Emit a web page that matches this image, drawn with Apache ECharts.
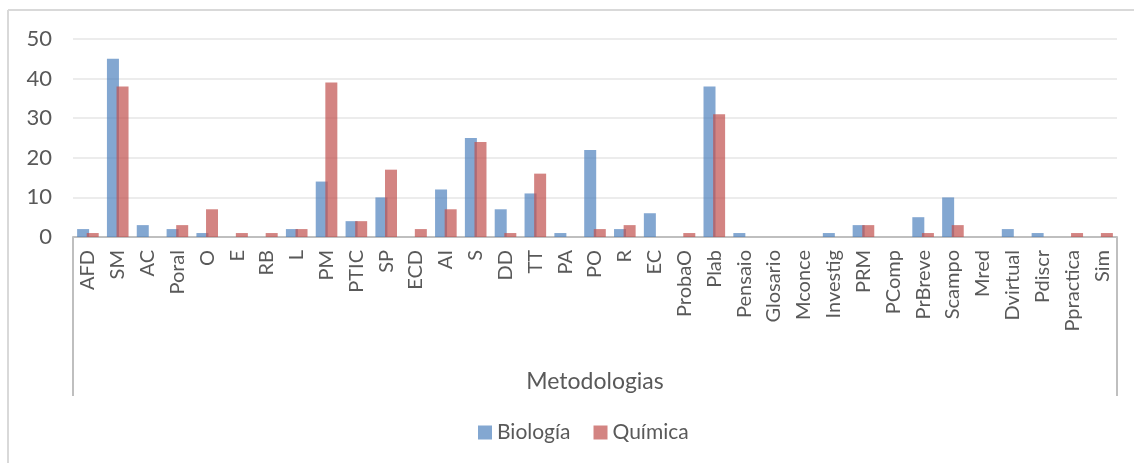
<!DOCTYPE html>
<html>
<head>
<meta charset="utf-8">
<script src="https://cdn.jsdelivr.net/npm/echarts@6/dist/echarts.min.js"></script>
<style>
  html, body { margin: 0; padding: 0; background: #ffffff; }
  #chart { width: 1134px; height: 463px; }
</style>
</head>
<body>
<div id="chart"></div>
<script>
// Teaching methodologies and how often each is used, by subject
const categories = ['AFD', 'SM', 'AC', 'Poral', 'O', 'E', 'RB', 'L', 'PM', 'PTIC', 'SP', 'ECD', 'AI', 'S', 'DD', 'TT', 'PA', 'PO', 'R', 'EC', 'ProbaO', 'Plab', 'Pensaio', 'Glosario', 'Mconce', 'Investig', 'PRM', 'PComp', 'PrBreve', 'Scampo', 'Mred', 'Dvirtual', 'Pdiscr', 'Ppractica', 'Sim'];
const biologia = [2, 45, 3, 2, 1, 0, 0, 2, 14, 4, 10, 0, 12, 25, 7, 11, 1, 22, 2, 6, 0, 38, 1, 0, 0, 1, 3, 0, 5, 10, 0, 2, 1, 0, 0];
const quimica  = [1, 38, 0, 3, 7, 1, 1, 2, 39, 4, 17, 2, 7, 24, 1, 16, 0, 2, 3, 0, 1, 31, 0, 0, 0, 0, 3, 0, 1, 3, 0, 0, 0, 1, 1];
const yTicks = { min: 0, max: 50, interval: 10 };
const axisTitle = 'Metodologias';

const FONT = 'Lato, "Open Sans", sans-serif';
const TEXT = '#595959';

const chart = echarts.init(document.getElementById('chart'), null, { renderer: 'canvas' });

const option = {
  backgroundColor: '#ffffff',
  animation: false,
  textStyle: { fontFamily: FONT },
  grid: { left: 73, right: 17, top: 39, bottom: 226, containLabel: false },
  legend: {
    data: ['Biología', 'Química'],
    bottom: 15,
    left: 473,
    itemWidth: 14,
    itemHeight: 14,
    itemGap: 23,
    icon: 'rect',
    textStyle: { fontFamily: FONT, fontSize: 21, color: TEXT }
  },
  xAxis: {
    type: 'category',
    data: categories,
    name: axisTitle,
    nameLocation: 'middle',
    nameGap: 133,
    nameTextStyle: { fontFamily: FONT, fontSize: 23, color: TEXT },
    axisLine: { lineStyle: { color: '#bfbfbf', width: 2 } },
    axisTick: { show: false },
    axisLabel: {
      rotate: 90,
      interval: 0,
      margin: 13,
      fontFamily: FONT,
      fontSize: 20,
      color: TEXT
    }
  },
  yAxis: {
    type: 'value',
    min: yTicks.min,
    max: yTicks.max,
    interval: yTicks.interval,
    axisLine: { show: false },
    axisTick: { show: false },
    axisLabel: { margin: 21, fontFamily: FONT, fontSize: 22, color: TEXT },
    splitLine: { lineStyle: { color: '#ececec', width: 2 } }
  },
  series: [
    {
      name: 'Biología',
      type: 'bar',
      data: biologia,
      barWidth: 12,
      barGap: '-20%',
      itemStyle: { color: '#4f81bd', opacity: 0.7 }
    },
    {
      name: 'Química',
      type: 'bar',
      data: quimica,
      barWidth: 12,
      itemStyle: { color: '#c0504d', opacity: 0.7 }
    }
  ],
  graphic: [
    // chart frame
    { type: 'line', shape: { x1: 8, y1: 10, x2: 1134, y2: 10 }, style: { stroke: '#d9d9d9', lineWidth: 2 }, silent: true },
    { type: 'line', shape: { x1: 8, y1: 10, x2: 8, y2: 463 }, style: { stroke: '#d9d9d9', lineWidth: 2 }, silent: true },
    // sides of the category-axis box
    { type: 'line', shape: { x1: 73, y1: 237, x2: 73, y2: 396 }, style: { stroke: '#bfbfbf', lineWidth: 2 }, silent: true },
    { type: 'line', shape: { x1: 1117, y1: 237, x2: 1117, y2: 396 }, style: { stroke: '#bfbfbf', lineWidth: 2 }, silent: true }
  ]
};

chart.setOption(option);
</script>
</body>
</html>
